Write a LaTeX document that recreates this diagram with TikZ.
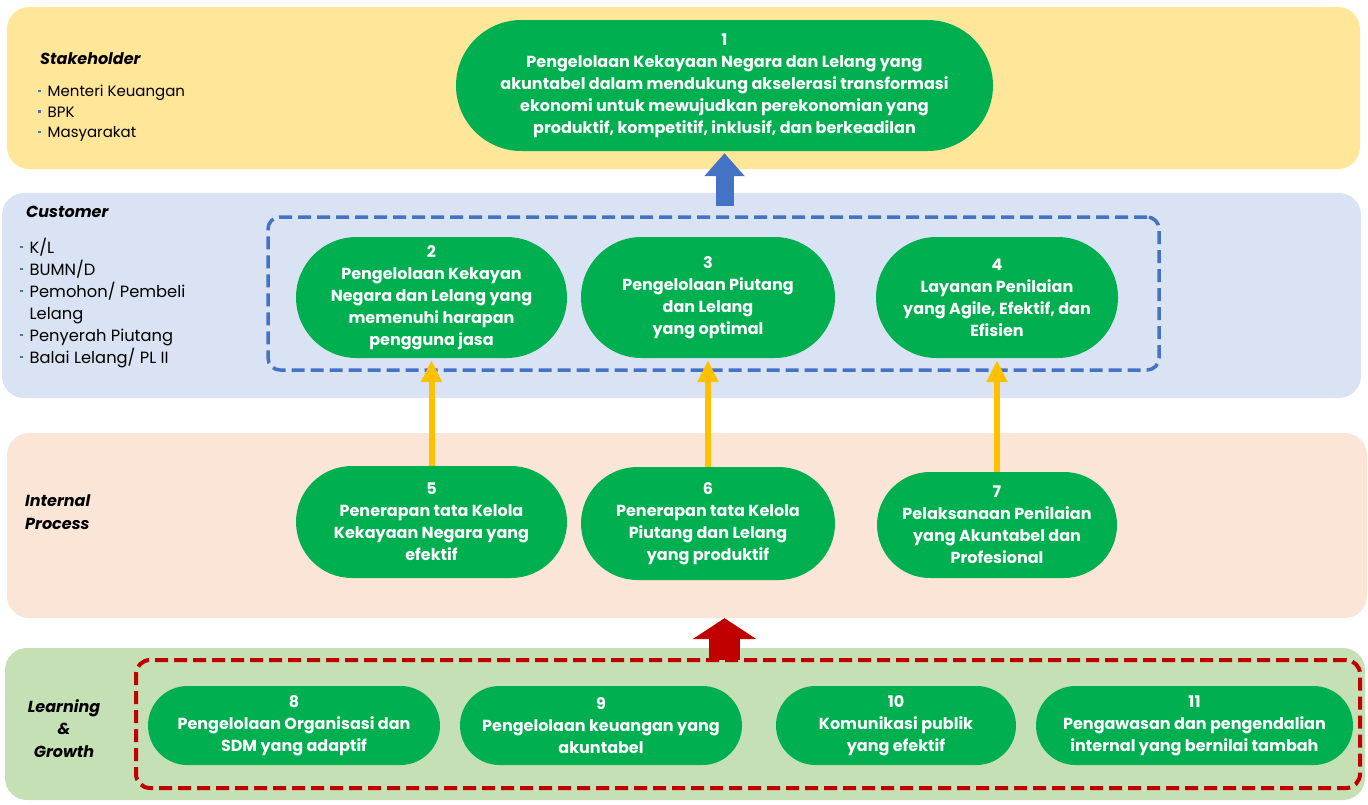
\documentclass[tikz,border=0pt]{standalone}
\usepackage{fontspec}
\setmainfont{Poppins}
\usetikzlibrary{shapes.misc,arrows.meta}

\definecolor{stakefill}{HTML}{FFE699}
\definecolor{custfill}{HTML}{DAE3F3}
\definecolor{procfill}{HTML}{FBE5D6}
\definecolor{learnfill}{HTML}{C5E0B4}
\definecolor{objgreen}{HTML}{00B050}
\definecolor{arrowblue}{HTML}{4472C4}
\definecolor{arrowgold}{HTML}{FFC000}
\definecolor{arrowred}{HTML}{C00000}

\newcommand{\blt}{\makebox[9.5pt][l]{\color{arrowblue}\rule[0.28em]{2.4pt}{2.4pt}}}

\begin{document}
\begin{tikzpicture}[x=1pt, y=-1pt, >=Triangle]
      \tikzset{
  band/.style={
    draw=none,
    rounded corners=22pt,
    inner sep=0pt
  },
  objective/.style={
    rounded rectangle,
    fill=objgreen,
    text=white,
    align=center,
    inner sep=0pt,
    font=\fontsize{16}{22}\selectfont\bfseries
  },
  perspective/.style={
    inner sep=0pt,
    font=\fontsize{16}{22.5}\selectfont\bfseries\itshape
  },
  member/.style={
    inner sep=0pt,
    anchor=base west,
    font=\fontsize{15}{21}\selectfont
  },
  groupbox/.style={
    inner sep=0pt,
    rounded corners=12pt,
    dash pattern=on 13pt off 6pt
  },
  goalarrow/.style={
    draw=arrowgold,
    line width=6pt,
    shorten >=2pt,
    -{Triangle[width=20pt,length=22pt]}
  }
}
\useasboundingbox (0,0) rectangle (1368,804);

% perspectives
\node [band, fill=stakefill, minimum width=1353, minimum height=162] (stake) at (683.5,88) {};
\node [band, fill=custfill, minimum width=1359, minimum height=205] (cust) at (681.5,295.5) {};
\node [band, fill=procfill, minimum width=1360, minimum height=185] (proc) at (687,525.5) {};
\node [band, fill=learnfill, minimum width=1360, minimum height=152] (learn) at (685,724) {};

\node [groupbox, draw=arrowblue, line width=3.5pt, minimum width=891, minimum height=153] (custbox) at (713.5,293.5) {};
\node [groupbox, draw=arrowred, line width=4pt, rounded corners=14pt, minimum width=1224, minimum height=128] (learnbox) at (748,724) {};

\node [perspective, anchor=base west] (stake-title) at (40,64) {Stakeholder};
\foreach \m [count=\k] in {Menteri Keuangan, BPK, Masyarakat}
  \node [member] (stake-\k) at (38,76+20.5*\k) {\blt\m};

\node [perspective, anchor=base west] (cust-title) at (26,217) {Customer};
\foreach \m [count=\k] in {\blt K/L, \blt BUMN/D, \blt Pemohon/ Pembeli, \hspace{9.5pt}Lelang, \blt Penyerah Piutang, \blt Balai Lelang/ PL II}
  \node [member, font=\fontsize{16.3}{22}\selectfont] (cust-\k) at (20,231+22*\k) {\m};

\node [perspective, anchor=base west, align=left] (proc-title) at (25,529) {Internal\\Process};
\node [perspective, anchor=base, align=center] (learn-title) at (64,757) {Learning\\\&\\Growth};

% objectives
\node [objective, minimum width=537, minimum height=131] (obj-1) at (724.5,85.5)
  {1\\Pengelolaan Kekayaan Negara dan Lelang yang\\akuntabel dalam mendukung akselerasi  transformasi\\ekonomi untuk mewujudkan perekonomian yang\\produktif, kompetitif, inklusif, dan berkeadilan};

\node [objective, minimum width=271, minimum height=121] (obj-2) at (431.5,297.5)
  {2\\Pengelolaan Kekayan\\Negara dan Lelang yang\\memenuhi harapan\\pengguna jasa};
\node [objective, minimum width=254, minimum height=121] (obj-3) at (708,297.5)
  {3\\Pengelolaan Piutang\\dan Lelang\\yang optimal};
\node [objective, minimum width=242, minimum height=121] (obj-4) at (997,297.5)
  {4\\Layanan Penilaian\\yang Agile, Efektif, dan\\Efisien};

\node [objective, minimum width=271, minimum height=112] (obj-5) at (431.5,522)
  {5\\Penerapan tata Kelola\\Kekayaan Negara yang\\efektif};
\node [objective, minimum width=254, minimum height=113] (obj-6) at (708,523.5)
  {6\\Penerapan tata Kelola\\Piutang dan Lelang\\yang produktif};
\node [objective, minimum width=240, minimum height=106] (obj-7) at (997,525)
  {7\\Pelaksanaan Penilaian\\yang Akuntabel dan\\Profesional};

\node [objective, minimum width=292, minimum height=79] (obj-8) at (294,725.5)
  {8\\Pengelolaan Organisasi dan\\SDM yang adaptif};
\node [objective, minimum width=282, minimum height=79] (obj-9) at (601,725.5)
  {9\\Pengelolaan keuangan yang\\akuntabel};
\node [objective, minimum width=240, minimum height=79] (obj-10) at (896,725.5)
  {10\\Komunikasi publik\\yang efektif};
\node [objective, minimum width=317, minimum height=79] (obj-11) at (1194.5,725.5)
  {11\\Pengawasan dan pengendalian\\internal yang bernilai tambah};

% links
\foreach \i/\j in {5/2,6/3,7/4}
  \draw [goalarrow] (obj-\i.north) -- (obj-\j.south);

\draw [arrowblue, line width=18pt, shorten <=9pt, shorten >=2pt, -{Triangle[width=39pt,length=23pt]}]
  (obj-1.south |- custbox.north) -- (obj-1.south);
\draw [arrowred, line width=31pt, shorten <=-2pt, -{Triangle[width=63pt,length=21pt]}]
  (obj-1.south |- learnbox.north) -- (obj-1.south |- proc.south);
    \end{tikzpicture}
\end{document}
